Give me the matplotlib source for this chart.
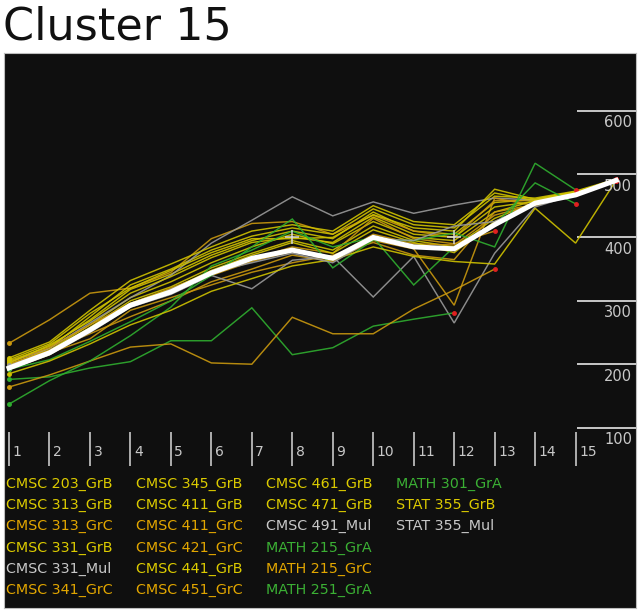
import matplotlib
matplotlib.use("Agg")
import matplotlib.pyplot as plt

# ---------------- data ----------------
title = "Cluster 15"
x_ticks = list(range(1, 16))
y_ticks = [100, 200, 300, 400, 500, 600]

names = ["CMSC 203_GrB", "CMSC 313_GrB", "CMSC 313_GrC", "CMSC 331_GrB", "CMSC 331_Mul", "CMSC 341_GrC",
         "CMSC 345_GrB", "CMSC 411_GrB", "CMSC 411_GrC", "CMSC 421_GrC", "CMSC 441_GrB", "CMSC 451_GrC",
         "CMSC 461_GrB", "CMSC 471_GrB", "CMSC 491_Mul", "MATH 215_GrA", "MATH 215_GrC", "MATH 251_GrA",
         "MATH 301_GrA", "STAT 355_GrB", "STAT 355_Mul"]

cmsc203_grb = [200, 222, 262, 305, 330, 360, 385, 405, 390, 425, 400, 395, 440, 458, 470, 490]
cmsc313_grb = [205, 228, 270, 318, 342, 372, 395, 410, 398, 440, 410, 405, 455, 460, 472, 490]
cmsc313_grc = [233, 270, 312, 320, 345, 398, 422, 425, 405, 435, 410, 400, 458, 458, 470, 490]
cmsc331_grb = [198, 225, 275, 325, 350, 380, 402, 415, 405, 445, 420, 415, 465, 462, 473, 492]
cmsc331_mul = [203, 225, 265, 305, 340, 391, 427, 464, 434, 456, 438, 451, 462, 459, 470, 490]
cmsc341_grc = [200, 222, 248, 275, 300, 330, 350, 372, 362, 395, 382, 293, 462, 450, 468, 490]
cmsc345_grb = [210, 235, 285, 332, 358, 385, 410, 420, 410, 450, 425, 420, 470, 458, 471, 490]
cmsc411_grb = [195, 220, 258, 300, 322, 352, 375, 395, 380, 418, 395, 385, 430, 455, 468, 489]
cmsc411_grc = [196, 220, 255, 290, 315, 340, 362, 378, 368, 405, 390, 388, 435, 452, 467, 490]
cmsc421_grc = [203, 226, 262, 296, 320, 345, 365, 385, 375, 430, 398, 390, 410]
cmsc441_grb = [202, 230, 268, 312, 338, 368, 392, 400, 392, 432, 405, 400, 448, 457, 470, 490]
cmsc451_grc = [199, 218, 240, 285, 305, 325, 345, 360, 372, 392, 372, 365, 440, 452, 468, 490]
cmsc461_grb = [192, 215, 252, 296, 318, 348, 372, 392, 375, 412, 392, 376, 425, 452, 466, 489]
cmsc471_grb = [207, 232, 280, 320, 348, 376, 398, 398, 400, 436, 415, 410, 476, 460, 472, 491]
cmsc491_mul = [192, 215, 250, 290, 310, 340, 319, 364, 370, 306, 370, 265, 375, 448, 468]
math215_gra = [176, 180, 194, 204, 237, 237, 289, 215, 226, 260, 271, 281]
math215_grc = [164, 183, 205, 227, 232, 202, 200, 274, 248, 248, 287, 317, 350]
math251_gra = [137, 174, 205, 245, 290, 355, 380, 410, 385, 400, 325, 385, 420, 486, 453]
math301_gra = [192, 207, 236, 267, 300, 340, 385, 429, 352, 396, 395, 407, 385, 517, 475]
stat355_grb = [185, 205, 232, 262, 285, 315, 335, 355, 365, 385, 370, 362, 358, 446, 391, 490]
stat355_mul = [198, 220, 255, 292, 318, 345, 360, 375, 360, 398, 395, 418, 425, 455, 468, 490]

mean_line = [194, 218, 254, 293, 314, 344, 367, 380, 367, 400, 385, 382, 420, 454, 467, 490]
plus_x = [8, 12]
plus_y = [400, 400]

series = [cmsc203_grb, cmsc313_grb, cmsc313_grc, cmsc331_grb, cmsc331_mul, cmsc341_grc,
          cmsc345_grb, cmsc411_grb, cmsc411_grc, cmsc421_grc, cmsc441_grb, cmsc451_grc,
          cmsc461_grb, cmsc471_grb, cmsc491_mul, math215_gra, math215_grc, math251_gra,
          math301_gra, stat355_grb, stat355_mul]

# ---------------- style ----------------
line_col = {"GrB": "#cfc200", "GrC": "#c9980e", "Mul": "#9a9a9a", "GrA": "#2fae2f"}
text_col = {"GrB": "#dccb00", "GrC": "#e2a600", "Mul": "#c8c8c8", "GrA": "#3bb034"}
BG = "#0f0f0f"
AX_C = "#c8c8c8"

W, H = 638, 613
fig = plt.figure(figsize=(W / 100, H / 100), dpi=100, facecolor="white")
plt.rcParams['font.family'] = ['DejaVu Sans']

# panel in pixel coords
pl, pr, pt, pb = 4, 636, 53, 608
ax = fig.add_axes([pl / W, 1 - pb / H, (pr - pl) / W, (pb - pt) / H])
ax.set_facecolor(BG)
for s in ax.spines.values():
    s.set_color("#bdbdbd")
    s.set_linewidth(0.8)
ax.set_xticks([])
ax.set_yticks([])

# data <-> pixel mapping
x0px, dxpx = 9.0, 40.47
y500px, pxper = 174.0, 0.634
xlim = (1 + (pl - x0px) / dxpx, 1 + (pr - x0px) / dxpx)
ylim = (500 - (pb - y500px) / pxper, 500 + (y500px - pt) / pxper)
ax.set_xlim(*xlim)
ax.set_ylim(*ylim)

# series
for name, vals in zip(names, series):
    key = name.split("_")[1]
    xs = list(range(1, len(vals) + 1))
    ax.plot(xs, vals, color=line_col[key], lw=1.05, alpha=0.9, solid_joinstyle="miter", zorder=2)
    ax.plot(xs[0], vals[0], "o", color=line_col[key], ms=2.5, zorder=3)
    ax.plot(xs[-1], vals[-1], "o", color="#e02020", ms=2.5, zorder=3)

# mean line
ax.plot(range(1, len(mean_line) + 1), mean_line, color="white", lw=3.6, zorder=4,
        solid_joinstyle="miter")
ax.plot(plus_x, plus_y, "+", color="#d8d8d8", ms=10, mew=1.1, zorder=5, linestyle="none")

# y "axis": short lines at right with labels below
yl_x0 = 1 + (577 - x0px) / dxpx
ax.hlines(y_ticks, yl_x0, xlim[1], color=AX_C, lw=1.4, zorder=1)
for v in y_ticks:
    ax.text(1 + (632 - x0px) / dxpx, v - 12 / pxper, str(v), color=AX_C, fontsize=10.5,
            ha="right", va="center")

# x "axis": vertical tick lines with labels to the right
xt_top = 500 - (432 - y500px) / pxper
xt_bot = 500 - (466 - y500px) / pxper
ax.vlines(x_ticks, xt_bot, xt_top, color=AX_C, lw=1.2)
for t in x_ticks:
    ax.text(t + 3.5 / dxpx, 500 - (452 - y500px) / pxper, str(t), color=AX_C,
            fontsize=10, ha="left", va="center")

# legend text
col_x = [6, 136, 266, 396]
row_y = [484, 505, 526, 548, 569, 590]
for k, name in enumerate(names):
    c, r = divmod(k, 6)
    key = name.split("_")[1]
    fig.text(col_x[c] / W, 1 - row_y[r] / H, name, color=text_col[key], fontsize=10.3,
             ha="left", va="center")

# title
fig.text(3 / W, 1 - 27 / H, title, fontsize=32, color="#111111", ha="left", va="center")

fig.savefig("out.png", dpi=100, facecolor="white")
